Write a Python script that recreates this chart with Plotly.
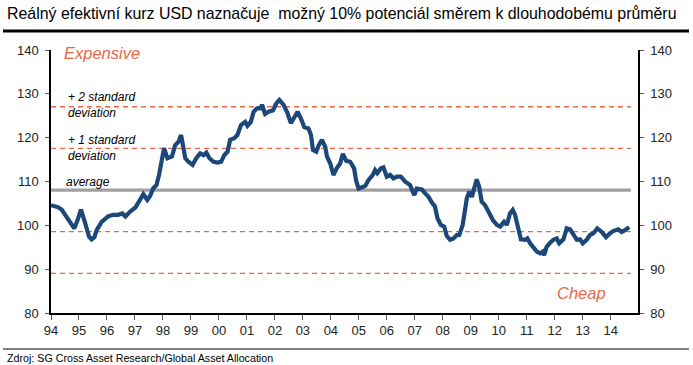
import plotly.graph_objects as go

years = [
    1994.00, 1994.26, 1994.38, 1994.56, 1994.74, 1994.83, 1994.95, 1995.07, 1995.19, 1995.27,
    1995.36, 1995.45, 1995.55, 1995.63, 1995.81, 1996.05, 1996.23, 1996.40, 1996.55, 1996.66,
    1996.82, 1997.02, 1997.14, 1997.30, 1997.44, 1997.54, 1997.65, 1997.77, 1997.86, 1997.95,
    1998.04, 1998.16, 1998.32, 1998.44, 1998.56, 1998.65, 1998.71, 1998.80, 1998.91, 1999.06,
    1999.19, 1999.33, 1999.45, 1999.55, 1999.66, 1999.81, 1999.95, 2000.08, 2000.19, 2000.31,
    2000.40, 2000.55, 2000.66, 2000.79, 2000.94, 2001.02, 2001.14, 2001.24, 2001.36, 2001.48,
    2001.54, 2001.65, 2001.77, 2001.93, 2002.05, 2002.16, 2002.31, 2002.45, 2002.57, 2002.69,
    2002.81, 2002.93, 2003.05, 2003.20, 2003.29, 2003.36, 2003.48, 2003.57, 2003.68, 2003.80,
    2003.86, 2003.98, 2004.09, 2004.21, 2004.33, 2004.43, 2004.55, 2004.69, 2004.83, 2004.90,
    2004.99, 2005.11, 2005.23, 2005.34, 2005.50, 2005.58, 2005.66, 2005.79, 2005.88, 2006.00,
    2006.12, 2006.24, 2006.36, 2006.50, 2006.65, 2006.83, 2006.98, 2007.07, 2007.25, 2007.37,
    2007.49, 2007.61, 2007.72, 2007.81, 2007.93, 2008.05, 2008.14, 2008.26, 2008.38, 2008.50,
    2008.59, 2008.71, 2008.79, 2008.86, 2008.95, 2009.04, 2009.12, 2009.21, 2009.30, 2009.39,
    2009.51, 2009.63, 2009.79, 2009.93, 2010.05, 2010.19, 2010.29, 2010.40, 2010.50, 2010.58,
    2010.70, 2010.79, 2010.94, 2011.02, 2011.12, 2011.24, 2011.36, 2011.48, 2011.57, 2011.62,
    2011.71, 2011.83, 2011.95, 2012.07, 2012.16, 2012.31, 2012.43, 2012.55, 2012.66, 2012.79,
    2012.90, 2013.00, 2013.14, 2013.26, 2013.38, 2013.52, 2013.68, 2013.83, 2013.98, 2014.09,
    2014.27, 2014.39, 2014.51, 2014.66,
]
usd_reer = [
    104.6, 104.1, 103.6, 102.0, 100.1, 99.3, 101.2, 103.6, 101.2, 98.9,
    97.4, 96.8, 97.3, 98.9, 100.8, 102.1, 102.4, 102.4, 102.7, 102.0,
    103.1, 104.1, 105.4, 107.1, 105.8, 106.7, 108.4, 109.2, 111.5, 114.9,
    117.6, 115.3, 115.7, 118.3, 119.1, 120.6, 118.3, 115.3, 114.5, 113.8,
    115.3, 116.4, 116.0, 116.6, 115.3, 114.5, 114.3, 114.5, 116.0, 116.8,
    119.5, 119.9, 120.6, 122.9, 123.6, 122.7, 123.6, 125.9, 126.7, 126.7,
    127.5, 125.4, 125.9, 126.2, 127.8, 128.6, 127.5, 125.6, 123.3, 124.4,
    125.9, 124.4, 122.4, 122.1, 120.6, 117.2, 116.8, 118.3, 119.5, 117.9,
    115.7, 114.1, 111.5, 113.0, 114.1, 116.3, 114.7, 114.5, 113.0, 110.3,
    108.4, 108.7, 109.0, 110.3, 111.5, 112.6, 111.9, 113.0, 113.2, 111.1,
    111.5, 110.7, 111.1, 111.1, 110.0, 109.2, 106.9, 108.4, 108.2, 107.3,
    106.5, 105.2, 104.3, 101.6, 100.1, 99.7, 97.6, 96.7, 97.0, 97.8,
    97.8, 100.1, 103.1, 106.2, 107.7, 106.5, 108.4, 110.5, 108.8, 105.4,
    104.6, 103.1, 101.2, 100.1, 99.7, 100.8, 100.1, 102.7, 103.5, 102.4,
    99.7, 96.8, 96.7, 97.0, 95.9, 95.1, 94.0, 93.6, 94.0, 93.2,
    95.1, 96.0, 96.7, 97.0, 95.9, 96.8, 99.3, 99.1, 97.8, 96.7,
    96.8, 95.9, 96.7, 97.8, 98.2, 99.3, 98.5, 97.3, 98.2, 98.7,
    99.1, 98.5, 98.9, 99.6,
]

average = 108.05
std_dev = 9.5
band_levels = [average + 2 * std_dev, average + std_dev, average - std_dev, average - 2 * std_dev]

tick_years = list(range(1994, 2015))
tick_labels = ["%02d" % (y % 100) for y in tick_years]
y_ticks = [80, 90, 100, 110, 120, 130, 140]

title_text = "Reálný efektivní kurz USD naznačuje \u00a0možný 10% potenciál směrem k dlouhodobému průměru"
source_text = "Zdroj: SG Cross Asset Research/Global Asset Allocation"

x_min, x_max = 1994.0, 2014.975
line_end = 2014.72
y_min, y_max = 80, 140

W, H = 693, 365
ML, MR, MT, MB = 51, 55, 50, 52
PW = W - ML - MR
PH = H - MT - MB

def px_to_paper_x(px):
    return (px - ML) / PW

def px_to_paper_y(py):
    return (H - MB - py) / PH

SALMON = "#E8674A"
NAVY = "#1C4778"
FONT = "Liberation Sans, Arial, sans-serif"

fig = go.Figure()

for lv in band_levels:
    fig.add_trace(go.Scatter(x=[x_min, line_end], y=[lv, lv], mode="lines",
                             line=dict(color=SALMON, width=1.3, dash="5px,4px"),
                             hoverinfo="skip", showlegend=False))
fig.add_trace(go.Scatter(x=[x_min, line_end], y=[average, average], mode="lines",
                         line=dict(color="#A0A0A4", width=3.2),
                         hoverinfo="skip", showlegend=False))

fig.add_trace(go.Scatter(x=years, y=usd_reer, mode="lines",
                         line=dict(color=NAVY, width=4.2, shape="linear"),
                         showlegend=False))

fig.add_trace(go.Scatter(x=[x_min], y=[y_min], yaxis="y2", mode="markers",
                         marker=dict(opacity=0), hoverinfo="skip", showlegend=False))

axis_font = dict(family=FONT, size=13, color="#222222")

fig.update_layout(
    width=W, height=H,
    margin=dict(l=ML, r=MR, t=MT, b=MB, pad=0),
    paper_bgcolor="white", plot_bgcolor="white",
    showlegend=False,
    xaxis=dict(range=[x_min, x_max], tickvals=tick_years, ticktext=tick_labels,
               showgrid=False, zeroline=False, showline=True, linecolor="black", linewidth=1.5,
               ticks="outside", ticklen=5, tickcolor="#555555", tickwidth=1,
               tickfont=axis_font),
    yaxis=dict(range=[y_min, y_max], tickvals=y_ticks,
               showgrid=False, zeroline=False, showline=True, linecolor="black", linewidth=1.5,
               ticks="outside", ticklen=4, tickcolor="#555555", tickwidth=1,
               tickfont=axis_font, ticklabelstandoff=4),
    yaxis2=dict(range=[y_min, y_max], tickvals=y_ticks, overlaying="y", side="right",
                showgrid=False, zeroline=False, showline=True, linecolor="black", linewidth=1.5,
                ticks="outside", ticklen=4, tickcolor="#555555", tickwidth=1,
                tickfont=axis_font, ticklabelstandoff=4),
)

annots = [
    dict(text=title_text, xref="paper", yref="paper", x=px_to_paper_x(5), y=px_to_paper_y(14),
         xanchor="left", yanchor="middle", showarrow=False,
         font=dict(family=FONT, size=15.9, color="black")),
    dict(text=source_text, xref="paper", yref="paper", x=px_to_paper_x(5), y=px_to_paper_y(358),
         xanchor="left", yanchor="middle", showarrow=False,
         font=dict(family=FONT, size=10.7, color="black")),
    dict(text="<i>Expensive</i>", xref="x", yref="y", x=1994.4, y=139.4,
         xanchor="left", yanchor="middle", showarrow=False,
         font=dict(family=FONT, size=16.5, color=SALMON)),
    dict(text="<i>Cheap</i>", xref="x", yref="y", x=2013.9, y=84.6,
         xanchor="right", yanchor="middle", showarrow=False,
         font=dict(family=FONT, size=16.5, color=SALMON)),
    dict(text="<i>+ 2 standard<br>deviation</i>", xref="x", yref="y", x=1994.52, y=127.5,
         xanchor="left", yanchor="middle", align="left", showarrow=False,
         font=dict(family=FONT, size=12, color="black")),
    dict(text="<i>+ 1 standard<br>deviation</i>", xref="x", yref="y", x=1994.52, y=117.7,
         xanchor="left", yanchor="middle", align="left", showarrow=False,
         font=dict(family=FONT, size=12, color="black")),
    dict(text="<i>average</i>", xref="x", yref="y", x=1994.48, y=110.0,
         xanchor="left", yanchor="middle", showarrow=False,
         font=dict(family=FONT, size=12, color="black")),
]
fig.update_layout(annotations=annots)

fig.update_layout(shapes=[
    dict(type="line", xref="paper", yref="paper", x0=px_to_paper_x(3), x1=px_to_paper_x(689),
         y0=px_to_paper_y(31), y1=px_to_paper_y(31), line=dict(color="black", width=3)),
    dict(type="line", xref="paper", yref="paper", x0=px_to_paper_x(3), x1=px_to_paper_x(689),
         y0=px_to_paper_y(349), y1=px_to_paper_y(349), line=dict(color="#7F7F7F", width=2)),
])

fig.write_html("out.html",
               config={"displayModeBar": False},
               post_script="document.body.style.margin='0';document.body.style.padding='0';")
